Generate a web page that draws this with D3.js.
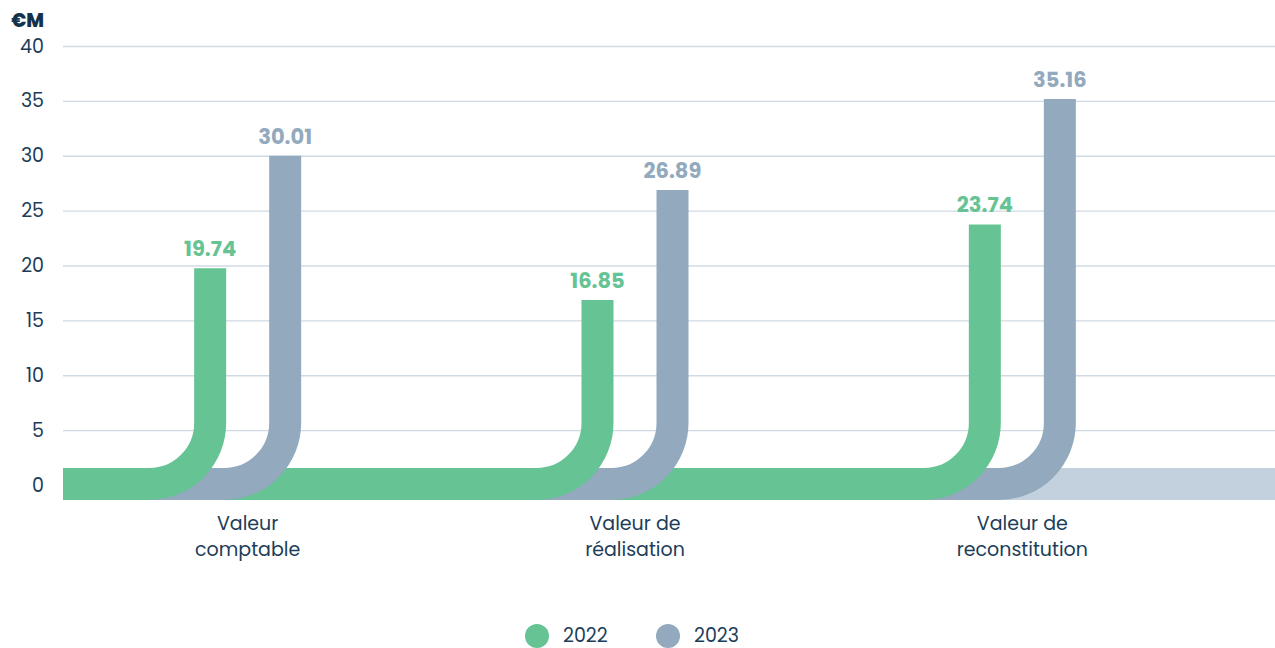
<!DOCTYPE html>
<html>
<head>
  <meta charset="UTF-8">
  <title>Valeurs</title>
  <style>
    body { margin: 0; background: #fff; }
    svg text { font-family: Poppins, Inter, "Open Sans", sans-serif; }
  </style>
</head>
<body>
  <svg id="chart" width="1275" height="648"></svg>
  <script src="https://d3js.org/d3.v7.min.js"></script>
  <script>
    /// data
    var categories = ["Valeur comptable", "Valeur de réalisation", "Valeur de reconstitution"];
    var catLines = [["Valeur", "comptable"], ["Valeur de", "réalisation"], ["Valeur de", "reconstitution"]];
    var years = ["2022", "2023"];
    var values2022 = [19.74, 16.85, 23.74];
    var values2023 = [30.01, 26.89, 35.16];
    var yTicks = [0, 5, 10, 15, 20, 25, 30, 35, 40];

    /// params
    var colors = {"2022": "#66c394", "2023": "#93a9bd"};
    var tailColor = "#c3d1de";
    var textColor = "#1c3d59";
    var pipeW = 32, r = 61;
    var width = 1275, gridLeft = 63;

    var svg = d3.select("#chart");

    var y = d3.scaleLinear().domain([0, 40]).range([485, 46]);
    var x0 = d3.scaleBand().domain(categories).range([54, 1216]);
    var x1 = d3.scalePoint().domain(years).range([-37.5, 37.5]);

    // grid + tick labels
    var axis = svg.append("g")
        .attr("transform", "translate(" + gridLeft + ",0)")
        .call(d3.axisLeft(y).tickValues(yTicks).tickSize(-(width - gridLeft)).tickPadding(19));
    axis.select(".domain").remove();
    axis.selectAll(".tick line").attr("stroke", "#d0dae4").attr("stroke-width", 1.3);
    axis.selectAll(".tick text")
        .attr("fill", textColor)
        .attr("font-size", 19)
        .attr("font-family", "Poppins, Inter, sans-serif");

    svg.append("text")
        .attr("x", 44).attr("y", 27)
        .attr("text-anchor", "end")
        .attr("font-size", 19).attr("font-weight", 800)
        .attr("fill", "#14324c")
        .text("€M");

    // pipes
    var rows = [];
    categories.forEach(function(c, i) {
      rows.push({cat: c, i: i, year: "2022", value: values2022[i]});
      rows.push({cat: c, i: i, year: "2023", value: values2023[i]});
    });
    function cx(d) { return x0(d.cat) + x0.bandwidth() / 2 + x1(d.year); }

    // start of each pipe sits under the previous elbow
    rows.forEach(function(d, k) {
      d.sx = k === 0 ? gridLeft : cx(rows[k - 1]) - r;
    });

    var y0 = y(0) - 1;
    var pipes = svg.append("g");
    var last = rows[rows.length - 1];
    pipes.append("path")
        .attr("d", "M" + (cx(last) - r) + "," + y0 + "H" + width)
        .attr("stroke", tailColor).attr("stroke-width", pipeW).attr("fill", "none");

    rows.slice().reverse().forEach(function(d) {
      var c = cx(d);
      var p = d3.path();
      p.moveTo(d.sx, y0);
      p.lineTo(c - r, y0);
      p.arcTo(c, y0, c, y0 - r, r);
      p.lineTo(c, y(d.value));
      pipes.append("path")
          .attr("d", p.toString())
          .attr("stroke", colors[d.year])
          .attr("stroke-width", pipeW)
          .attr("fill", "none");
    });

    // value labels
    svg.append("g").selectAll("text")
      .data(rows)
      .join("text")
        .attr("x", cx)
        .attr("y", function(d) { return y(d.value) - 12; })
        .attr("text-anchor", "middle")
        .attr("font-size", 21).attr("font-weight", 700)
        .attr("fill", function(d) { return colors[d.year]; })
        .text(function(d) { return d3.format(".2f")(d.value); });

    // category labels
    var cl = svg.append("g").selectAll("text")
      .data(categories)
      .join("text")
        .attr("x", function(d) { return x0(d) + x0.bandwidth() / 2; })
        .attr("y", 530)
        .attr("text-anchor", "middle")
        .attr("font-size", 19)
        .attr("fill", textColor);
    cl.selectAll("tspan")
      .data(function(d, i) { return catLines[i]; })
      .join("tspan")
        .attr("x", function() { return this.parentNode.getAttribute("x"); })
        .attr("dy", function(d, j) { return j ? 26 : 0; })
        .text(function(d) { return d; });

    // legend
    var legX = [537, 668];
    var leg = svg.append("g").selectAll("g")
      .data(years)
      .join("g")
        .attr("transform", function(d, i) { return "translate(" + legX[i] + ",636)"; });
    leg.append("circle").attr("r", 12).attr("fill", function(d) { return colors[d]; });
    leg.append("text")
        .attr("x", 26).attr("y", 6)
        .attr("font-size", 19)
        .attr("fill", textColor)
        .text(function(d) { return d; });
  </script>
</body>
</html>
